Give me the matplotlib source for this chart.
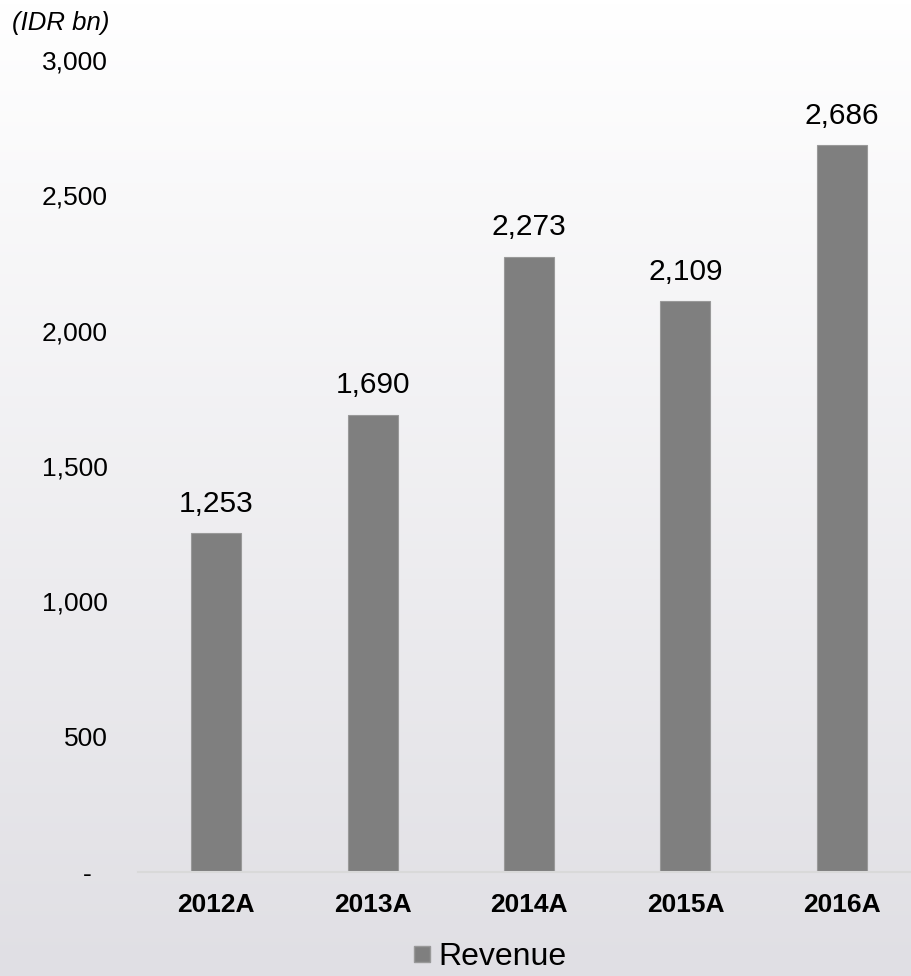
import numpy as np
import matplotlib.pyplot as plt
from matplotlib.transforms import ScaledTranslation
from matplotlib.lines import Line2D

years = ["2012A", "2013A", "2014A", "2015A", "2016A"]
revenue = [1253, 1690, 2273, 2109, 2686]
yticks = [0, 500, 1000, 1500, 2000, 2500, 3000]

plt.rcParams['font.family'] = ['Liberation Sans', 'DejaVu Sans']

fig = plt.figure(figsize=(9.12, 9.76), dpi=100)

# background gradient, white at top to light grey at bottom
bg = fig.add_axes([0, 0, 1, 1], zorder=-10)
top = np.array([255, 255, 255]) / 255
bot = np.array([224, 223, 228]) / 255
t = np.linspace(0, 1, 256)[:, None]
grad = top * (1 - t) + bot * t
bg.imshow(grad[:, None, :], aspect='auto', extent=[0, 1, 0, 1])
bg.axis('off')

ax = fig.add_axes([138 / 912, 104 / 976, 782 / 912, 812 / 976])
ax.patch.set_alpha(0)
x = np.arange(len(years))
bars = ax.bar(x, revenue, width=0.32, color='#7f7f7f', edgecolor='#999999', linewidth=0.8)

for xi, v in zip(x, revenue):
    ax.annotate(f"{v:,}", (xi, v), xytext=(0, 11), textcoords='offset points',
                ha='center', va='bottom', fontsize=21.5, color='black')

ax.set_xlim(-0.5, len(years) - 0.5)
ax.set_ylim(0, 3000)
ax.set_xticks(x)
ax.set_xticklabels(years, fontsize=19, fontweight='bold')
ax.set_yticks(yticks)
ax.set_yticklabels(["-"] + [f"{v:,}" for v in yticks[1:]], fontsize=19)
ax.tick_params(axis='both', length=0)
ax.tick_params(axis='y', pad=22)
ax.tick_params(axis='x', pad=15)
lbl0 = ax.get_yticklabels()[0]
lbl0.set_transform(lbl0.get_transform() + ScaledTranslation(-0.16, 0, fig.dpi_scale_trans))

for s in ['top', 'right', 'left']:
    ax.spines[s].set_visible(False)
ax.spines['bottom'].set_color('#d9d9d9')
ax.spines['bottom'].set_linewidth(1.5)

fig.text(12 / 912, 1 - 23 / 976, "(IDR bn)", fontsize=18.5, style='italic',
         ha='left', va='center')

handle = Line2D([], [], marker='s', linestyle='none', markersize=12,
                markerfacecolor='#7f7f7f', markeredgecolor='#999999')
fig.legend([handle], ["Revenue"], loc='center', bbox_to_anchor=(488 / 912, 1 - 957 / 976),
           frameon=False, fontsize=23, handletextpad=0.1, handlelength=0.8)

fig.savefig("out.png", dpi=100)
